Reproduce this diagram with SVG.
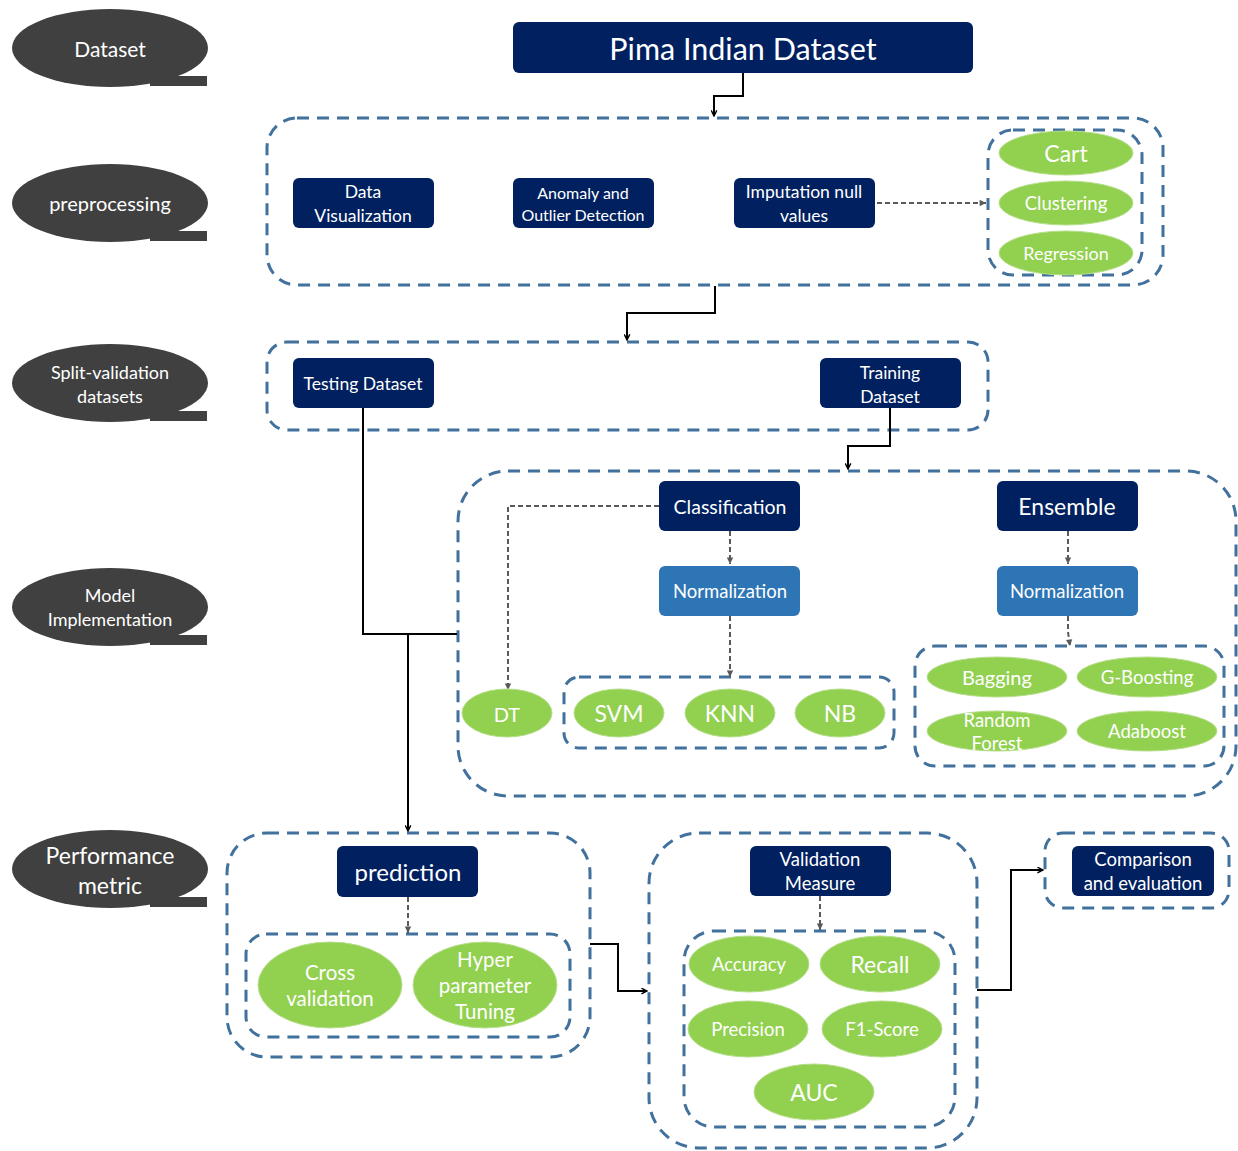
<svg xmlns="http://www.w3.org/2000/svg" width="1238" height="1151" viewBox="0 0 1238 1151">
<defs>
<style>
text{font-family:Lato,"Open Sans","Liberation Sans",sans-serif;fill:#fff;text-anchor:middle;dominant-baseline:central}
.lbl{fill:#404040}
.navy{fill:#002060}
.blue{fill:#2E75B6}
.grn{fill:#92D050;stroke:#B5DE8A;stroke-width:1}
.cont{fill:none;stroke:#41719C;stroke-width:3;stroke-dasharray:12 8}
.solid{fill:none;stroke:#000;stroke-width:2}
.dash{fill:none;stroke:#595959;stroke-width:2;stroke-dasharray:5 3}
</style>
<marker id="ah" viewBox="0 0 10 10" refX="9" refY="5" markerWidth="7" markerHeight="7" orient="auto" markerUnits="userSpaceOnUse">
<path d="M1,1 L9,5 L1,9" fill="none" stroke="#000" stroke-width="2"/>
</marker>
<marker id="dh" viewBox="0 0 10 10" refX="9" refY="5" markerWidth="8" markerHeight="8" orient="auto" markerUnits="userSpaceOnUse">
<path d="M1,1 L9,5 L1,9 Z" fill="#595959"/>
</marker>
</defs>
<rect width="1238" height="1151" fill="#fff"/>

<g id="labels">
<g id="lbl-dataset"><ellipse class="lbl" cx="110" cy="48" rx="98" ry="39"/><rect class="lbl" x="150" y="76" width="57" height="10"/><text x="110" y="48" font-size="21">Dataset</text></g>
<g id="lbl-pre"><ellipse class="lbl" cx="110" cy="203" rx="98" ry="39"/><rect class="lbl" x="150" y="231" width="57" height="10"/><text x="110" y="203" font-size="20">preprocessing</text></g>
<g id="lbl-split"><ellipse class="lbl" cx="110" cy="383" rx="98" ry="39"/><rect class="lbl" x="150" y="411" width="57" height="10"/><text x="110" y="372" font-size="18">Split-validation</text><text x="110" y="396" font-size="18">datasets</text></g>
<g id="lbl-model"><ellipse class="lbl" cx="110" cy="607" rx="98" ry="39"/><rect class="lbl" x="150" y="635" width="57" height="10"/><text x="110" y="595" font-size="18">Model</text><text x="110" y="619" font-size="18">Implementation</text></g>
<g id="lbl-perf"><ellipse class="lbl" cx="110" cy="869" rx="98" ry="39"/><rect class="lbl" x="150" y="897" width="57" height="10"/><text x="110" y="855" font-size="23">Performance</text><text x="110" y="885" font-size="23">metric</text></g>
</g>

<g id="containers">
<rect class="cont" x="267" y="118" width="896" height="167" rx="30"/>
<rect class="cont" x="988" y="130" width="154" height="145" rx="25"/>
<rect class="cont" x="267" y="342" width="721" height="88" rx="20"/>
<rect class="cont" x="458" y="471" width="778" height="325" rx="50"/>
<rect class="cont" x="564" y="677" width="330" height="71" rx="15"/>
<rect class="cont" x="915" y="646" width="309" height="120" rx="20"/>
<rect class="cont" x="227" y="833" width="363" height="224" rx="40"/>
<rect class="cont" x="246" y="934" width="324" height="103" rx="20"/>
<rect class="cont" x="649" y="833" width="328" height="315" rx="50"/>
<rect class="cont" x="684" y="931" width="271" height="196" rx="30"/>
<rect class="cont" x="1045" y="833" width="184" height="75" rx="18"/>
</g>

<g id="connectors">
<path class="solid" d="M743,73 V96 H714 V116" marker-end="url(#ah)"/>
<path class="solid" d="M715,286 V313 H627 V340" marker-end="url(#ah)"/>
<path class="solid" d="M890,408 V446 H848 V469" marker-end="url(#ah)"/>
<path class="solid" d="M363,408 V634 H457"/>
<path class="solid" d="M408,634 V831" marker-end="url(#ah)"/>
<path class="solid" d="M590,944 H618 V991 H647" marker-end="url(#ah)"/>
<path class="solid" d="M977,990 H1011 V870 H1043" marker-end="url(#ah)"/>
<path class="dash" d="M877,203 H986" marker-end="url(#dh)"/>
<path class="dash" d="M730,531 V564" marker-end="url(#dh)"/>
<path class="dash" d="M730,616 V677" marker-end="url(#dh)"/>
<path class="dash" d="M659,506 H508 V690" marker-end="url(#dh)"/>
<path class="dash" d="M1068,531 V564" marker-end="url(#dh)"/>
<path class="dash" d="M1068,616 V632 L1070,646" marker-end="url(#dh)"/>
<path class="dash" d="M408,897 V933" marker-end="url(#dh)"/>
<path class="dash" d="M820,896 V930" marker-end="url(#dh)"/>
</g>

<g id="n-pima"><rect class="navy" x="513" y="22" width="460" height="51" rx="6"/><text x="743" y="48" font-size="30.5">Pima Indian Dataset</text></g>
<g id="n-dataviz"><rect class="navy" x="293" y="178" width="141" height="50" rx="6"/><text x="363" y="191" font-size="17.5">Data</text><text x="363" y="215" font-size="17.5">Visualization</text></g>
<g id="n-anomaly"><rect class="navy" x="513" y="178" width="141" height="50" rx="6"/><text x="583" y="192" font-size="16">Anomaly and</text><text x="583" y="214" font-size="16">Outlier Detection</text></g>
<g id="n-imput"><rect class="navy" x="734" y="178" width="141" height="50" rx="6"/><text x="804" y="191" font-size="17.5">Imputation null</text><text x="804" y="215" font-size="17.5">values</text></g>
<g id="n-cart"><ellipse class="grn" cx="1066" cy="153" rx="67" ry="22"/><text x="1066" y="153" font-size="23">Cart</text></g>
<g id="n-clust"><ellipse class="grn" cx="1066" cy="203" rx="67" ry="22"/><text x="1066" y="203" font-size="18.5">Clustering</text></g>
<g id="n-regr"><ellipse class="grn" cx="1066" cy="253" rx="67" ry="22"/><text x="1066" y="253" font-size="18">Regression</text></g>

<g id="n-testing"><rect class="navy" x="293" y="358" width="141" height="50" rx="6"/><text x="363" y="383" font-size="17.5">Testing Dataset</text></g>
<g id="n-training"><rect class="navy" x="820" y="358" width="141" height="50" rx="6"/><text x="890" y="372" font-size="17.5">Training</text><text x="890" y="396" font-size="17.5">Dataset</text></g>

<g id="n-class"><rect class="navy" x="659" y="481" width="141" height="50" rx="6"/><text x="730" y="506" font-size="19.5">Classification</text></g>
<g id="n-ens"><rect class="navy" x="997" y="481" width="141" height="50" rx="6"/><text x="1067" y="506" font-size="23">Ensemble</text></g>
<g id="n-norm1"><rect class="blue" x="659" y="566" width="141" height="50" rx="6"/><text x="730" y="591" font-size="18.5">Normalization</text></g>
<g id="n-norm2"><rect class="blue" x="997" y="566" width="141" height="50" rx="6"/><text x="1067" y="591" font-size="18.5">Normalization</text></g>
<g id="n-dt"><ellipse class="grn" cx="507" cy="713" rx="45" ry="24"/><text x="507" y="714" font-size="20">DT</text></g>
<g id="n-svm"><ellipse class="grn" cx="619" cy="713" rx="45" ry="24"/><text x="619" y="713" font-size="23">SVM</text></g>
<g id="n-knn"><ellipse class="grn" cx="730" cy="713" rx="45" ry="24"/><text x="730" y="713" font-size="23">KNN</text></g>
<g id="n-nb"><ellipse class="grn" cx="840" cy="713" rx="45" ry="24"/><text x="840" y="713" font-size="23">NB</text></g>
<g id="n-bag"><ellipse class="grn" cx="997" cy="677" rx="70" ry="20"/><text x="997" y="677" font-size="20">Bagging</text></g>
<g id="n-gb"><ellipse class="grn" cx="1147" cy="677" rx="70" ry="20"/><text x="1147" y="677" font-size="18.5">G-Boosting</text></g>
<g id="n-rf"><ellipse class="grn" cx="997" cy="731" rx="70" ry="20"/><text x="997" y="720" font-size="18.5">Random</text><text x="997" y="743" font-size="18.5">Forest</text></g>
<g id="n-ada"><ellipse class="grn" cx="1147" cy="731" rx="70" ry="20"/><text x="1147" y="731" font-size="18.5">Adaboost</text></g>

<g id="n-pred"><rect class="navy" x="337" y="846" width="141" height="51" rx="6"/><text x="408" y="871" font-size="24">prediction</text></g>
<g id="n-cv"><ellipse class="grn" cx="330" cy="985" rx="72" ry="43"/><text x="330" y="972" font-size="20.5">Cross</text><text x="330" y="998" font-size="20.5">validation</text></g>
<g id="n-hp"><ellipse class="grn" cx="485" cy="985" rx="72" ry="43"/><text x="485" y="959" font-size="20.5">Hyper</text><text x="485" y="985" font-size="20.5">parameter</text><text x="485" y="1011" font-size="20.5">Tuning</text></g>

<g id="n-valm"><rect class="navy" x="750" y="846" width="141" height="50" rx="6"/><text x="820" y="859" font-size="18.5">Validation</text><text x="820" y="883" font-size="18.5">Measure</text></g>
<g id="n-acc"><ellipse class="grn" cx="749" cy="964" rx="60" ry="28"/><text x="749" y="964" font-size="18.5">Accuracy</text></g>
<g id="n-rec"><ellipse class="grn" cx="880" cy="964" rx="60" ry="28"/><text x="880" y="964" font-size="23">Recall</text></g>
<g id="n-prec"><ellipse class="grn" cx="748" cy="1029" rx="60" ry="28"/><text x="748" y="1029" font-size="18.5">Precision</text></g>
<g id="n-f1"><ellipse class="grn" cx="882" cy="1029" rx="60" ry="28"/><text x="882" y="1029" font-size="18.5">F1-Score</text></g>
<g id="n-auc"><ellipse class="grn" cx="814" cy="1092" rx="60" ry="28"/><text x="814" y="1092" font-size="23">AUC</text></g>

<g id="n-comp"><rect class="navy" x="1072" y="846" width="142" height="50" rx="6"/><text x="1143" y="859" font-size="18.5">Comparison</text><text x="1143" y="883" font-size="18.5">and evaluation</text></g>
</svg>
